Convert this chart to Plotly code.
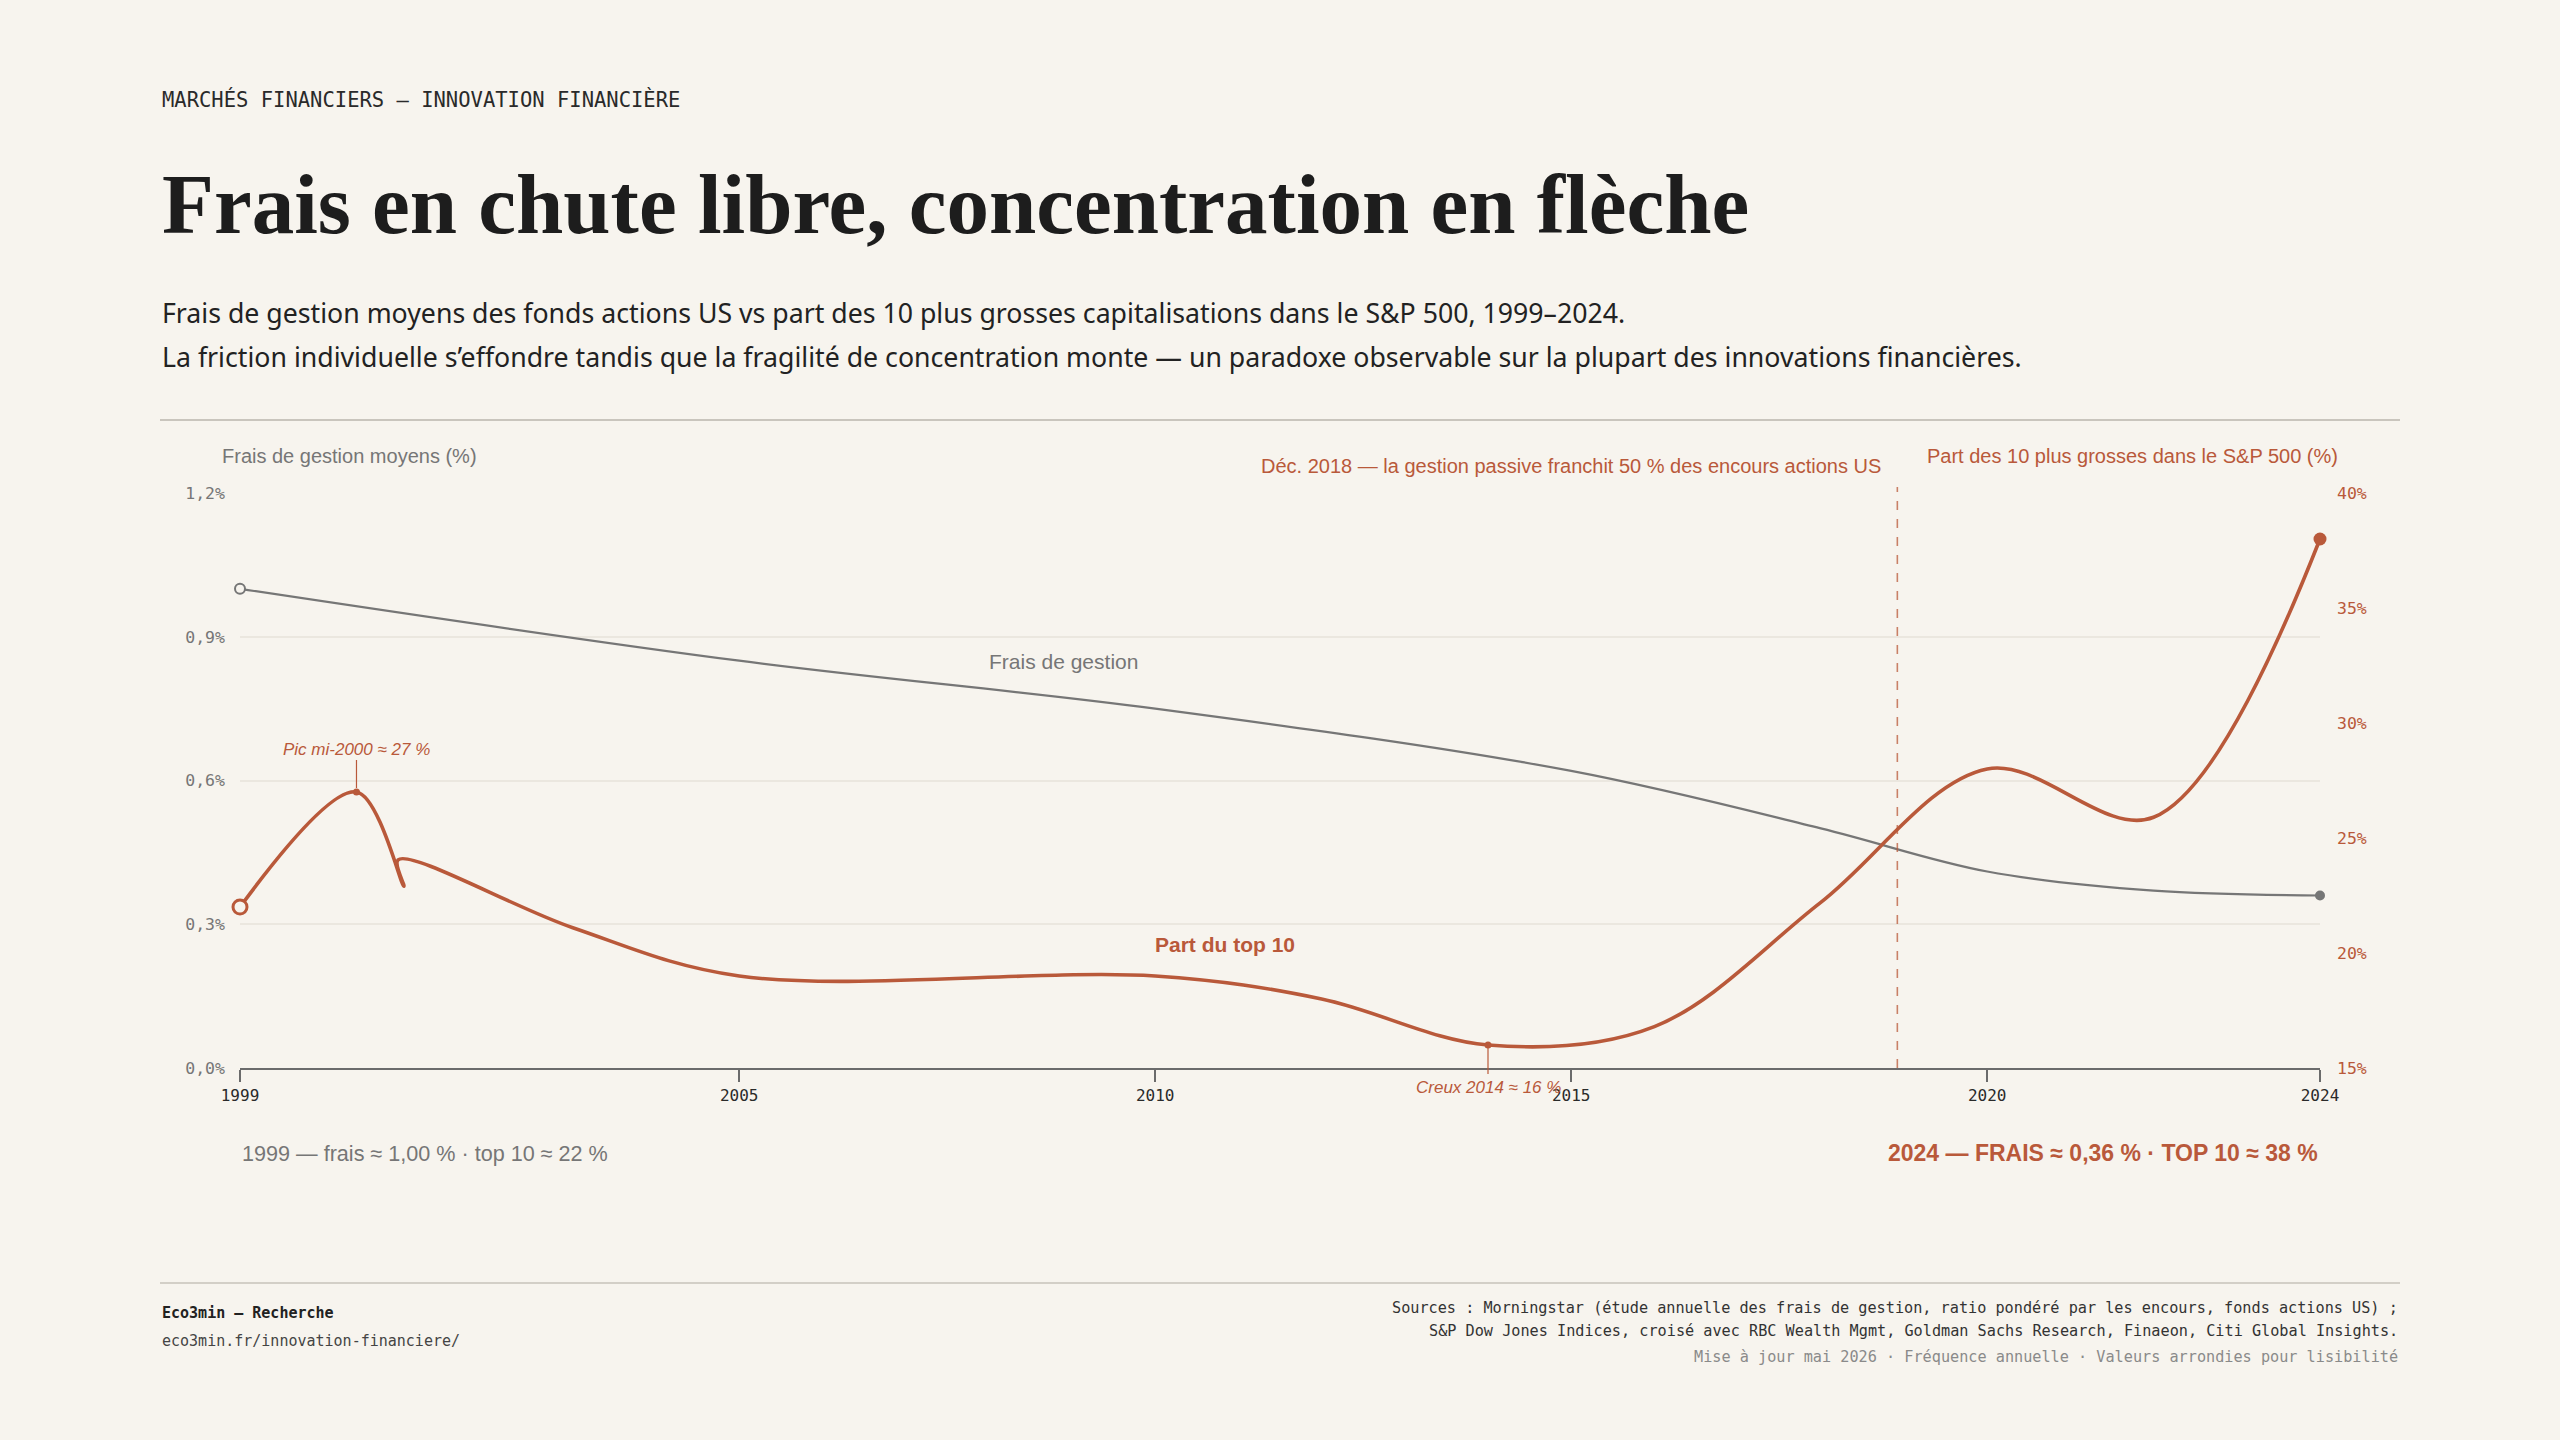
import plotly.graph_objects as go

# Frais de gestion moyens des fonds actions US (%)
fee_years = [1999, 2005, 2010, 2015, 2018, 2020, 2022, 2024]
fee_values = [1.00, 0.85, 0.75, 0.62, 0.50, 0.41, 0.37, 0.36]

# Part des 10 plus grosses capitalisations dans le S&P 500 (%)
top10_years = [1999, 2000.4, 2000.97, 2000.9, 2003, 2005, 2010,
               2012, 2014, 2016, 2018, 2020, 2022, 2024]
top10_share = [22.0, 27.0, 22.9, 24.05, 21.1, 19.0, 19.0,
               18.0, 16.0, 16.8, 22.2, 28.0, 25.9, 38.0]

peak_year, peak_value = 2000.4, 27.0
trough_year, trough_value = 2014, 16.0
passive_year = 2018.92

x_ticks = [1999, 2005, 2010, 2015, 2020, 2024]
fee_ticks = [0, 0.3, 0.6, 0.9, 1.2]
fee_ticktext = ['0,0%', '0,3%', '0,6%', '0,9%', '1,2%']
share_ticks = [15, 20, 25, 30, 35, 40]
share_ticktext = ['15%', '20%', '25%', '30%', '35%', '40%']

BG = '#f7f4ee'
RED = '#b9593a'
GREY = '#767676'
INK = '#1d1d1d'
MONO = 'DejaVu Sans Mono'
SANS = 'Liberation Sans'

W, H = 2560, 1440
L, R, T, B = 240, 240, 493, 372


def px(x):
    # pixel -> paper (x)
    return (x - L) / (W - L - R)


def py(y):
    # pixel -> paper (y)
    return (H - B - y) / (H - T - B)


fig = go.Figure()

fig.add_trace(go.Scatter(x=fee_years, y=fee_values, mode='lines',
                         line=dict(color=GREY, width=2.2, shape='spline', smoothing=1),
                         hoverinfo='skip'))
fig.add_trace(go.Scatter(x=top10_years, y=top10_share, mode='lines', yaxis='y2',
                         line=dict(color=RED, width=3.6, shape='spline', smoothing=1),
                         hoverinfo='skip'))

# start / end markers
fig.add_trace(go.Scatter(x=[fee_years[0]], y=[fee_values[0]], mode='markers', cliponaxis=False,
                         marker=dict(size=10, color=BG, line=dict(color=GREY, width=2)),
                         hoverinfo='skip'))
fig.add_trace(go.Scatter(x=[fee_years[-1]], y=[fee_values[-1]], mode='markers', cliponaxis=False,
                         marker=dict(size=10, color=GREY), hoverinfo='skip'))
fig.add_trace(go.Scatter(x=[top10_years[0]], y=[top10_share[0]], mode='markers', yaxis='y2',
                         cliponaxis=False,
                         marker=dict(size=14, color=BG, line=dict(color=RED, width=3)),
                         hoverinfo='skip'))
fig.add_trace(go.Scatter(x=[top10_years[-1]], y=[top10_share[-1]], mode='markers', yaxis='y2',
                         cliponaxis=False, marker=dict(size=13, color=RED), hoverinfo='skip'))
fig.add_trace(go.Scatter(x=[peak_year, trough_year], y=[peak_value, trough_value], mode='markers',
                         yaxis='y2', cliponaxis=False, marker=dict(size=7, color=RED),
                         hoverinfo='skip'))
fig.add_trace(go.Scatter(x=[passive_year], y=[40.3], mode='markers', yaxis='y2', cliponaxis=False,
                         marker=dict(size=8, color=RED), hoverinfo='skip'))

shapes = [
    dict(type='line', xref='paper', yref='paper', x0=px(160), x1=px(2400), y0=py(420), y1=py(420),
         line=dict(color='#c9c5bd', width=2)),
    dict(type='line', xref='paper', yref='paper', x0=px(160), x1=px(2400), y0=py(1283), y1=py(1283),
         line=dict(color='#d3cfc7', width=2)),
    dict(type='line', xref='x', yref='paper', x0=passive_year, x1=passive_year, y0=0, y1=py(487),
         line=dict(color='rgba(185,89,58,0.75)', width=1.6, dash='dash')),
    dict(type='line', xref='x', yref='paper', x0=peak_year, x1=peak_year, y0=py(788), y1=py(760),
         line=dict(color=RED, width=1.2)),
    dict(type='line', xref='x', yref='paper', x0=trough_year, x1=trough_year, y0=py(1045), y1=py(1074),
         line=dict(color=RED, width=1.2)),
]


def note(text, x, y, size, color, family=SANS, xanchor='left', xref='paper', bold=False,
         italic=False):
    return dict(text=text, x=x if xref != 'paper' else px(x), y=py(y), xref=xref, yref='paper',
                xanchor=xanchor, yanchor='middle', showarrow=False,
                font=dict(family=family, size=size, color=color,
                          weight='bold' if bold else 'normal',
                          style='italic' if italic else 'normal'))


annotations = [
    note('MARCHÉS FINANCIERS — INNOVATION FINANCIÈRE', 160, 100, 20.5, '#2a2a2a', family=MONO),
    note('Frais en chute libre, concentration en flèche', 160, 204, 85, INK,
         family='Liberation Serif', bold=True),
    note('Frais de gestion moyens des fonds actions US vs part des 10 plus grosses '
         'capitalisations dans le S&amp;P 500, 1999–2024.', 160, 312, 26.7, '#222222', family='Noto Sans'),
    note('La friction individuelle s’effondre tandis que la fragilité de concentration monte '
         '— un paradoxe observable sur la plupart des innovations financières.',
         160, 356, 26.7, '#222222', family='Noto Sans'),
    note('Frais de gestion moyens (%)', 220, 456, 20, GREY),
    note('Part des 10 plus grosses dans le S&amp;P 500 (%)', 2340, 456, 20, RED, xanchor='right'),
    note('Déc. 2018 — la gestion passive franchit 50 % des encours actions US', 1883, 466, 20, RED,
         xanchor='right'),
    note('Frais de gestion', 1063, 661, 21, GREY, xanchor='center'),
    note('Part du top 10', 1225, 944, 21, RED, xanchor='center', bold=True),
    note('Pic mi-2000 ≈ 27 %', peak_year, 749, 17, RED, xanchor='center', xref='x', italic=True),
    note('Creux 2014 ≈ 16 %', trough_year, 1087, 17, RED, xanchor='center', xref='x', italic=True),
    note('1999 — frais ≈ 1,00 % · top 10 ≈ 22 %', 240, 1153, 21.6, GREY),
    note('2024 — FRAIS ≈ 0,36 % · TOP 10 ≈ 38 %', 2320, 1153, 23, RED, xanchor='right', bold=True),
    note('Eco3min — Recherche', 160, 1313, 15, '#222222', family=MONO, bold=True),
    note('eco3min.fr/innovation-financiere/', 160, 1341, 15, '#444444', family=MONO),
    note('Sources : Morningstar (étude annuelle des frais de gestion, ratio pondéré par les encours, '
         'fonds actions US) ;', 2400, 1308, 15.2, '#333333', family=MONO, xanchor='right'),
    note('S&amp;P Dow Jones Indices, croisé avec RBC Wealth Mgmt, Goldman Sachs Research, Finaeon, '
         'Citi Global Insights.', 2400, 1331, 15.2, '#333333', family=MONO, xanchor='right'),
    note('Mise à jour mai 2026 · Fréquence annuelle · Valeurs arrondies pour lisibilité',
         2400, 1357, 15.2, '#8a8a8a', family=MONO, xanchor='right'),
]

fig.update_layout(
    width=W, height=H,
    margin=dict(l=L, r=R, t=T, b=B),
    paper_bgcolor=BG, plot_bgcolor=BG,
    showlegend=False,
    shapes=shapes,
    annotations=annotations,
    xaxis=dict(range=[1999, 2024], tickvals=x_ticks, ticks='outside', ticklen=12, tickwidth=1.5,
               tickcolor='#6b6b6b', showline=True, linecolor='#6b6b6b', linewidth=2,
               showgrid=False, zeroline=False,
               tickfont=dict(family=MONO, size=16, color='#2a2a2a')),
    yaxis=dict(range=[0, 1.2], tickvals=fee_ticks, ticktext=fee_ticktext, showgrid=True,
               gridcolor='#ebe7df', gridwidth=1.5, zeroline=False, showline=False,
               ticklabelstandoff=14,
               tickfont=dict(family=MONO, size=16.5, color=GREY)),
    yaxis2=dict(range=[15, 40], tickvals=share_ticks, ticktext=share_ticktext, overlaying='y',
                side='right', showgrid=False, zeroline=False, showline=False,
                ticklabelstandoff=16,
                tickfont=dict(family=MONO, size=16.5, color=RED)),
)

# page without the default body margin
fig.write_html('out.html', config={'displayModeBar': False},
               post_script="document.body.style.margin='0';"
                           "document.body.style.background='" + BG + "';")
